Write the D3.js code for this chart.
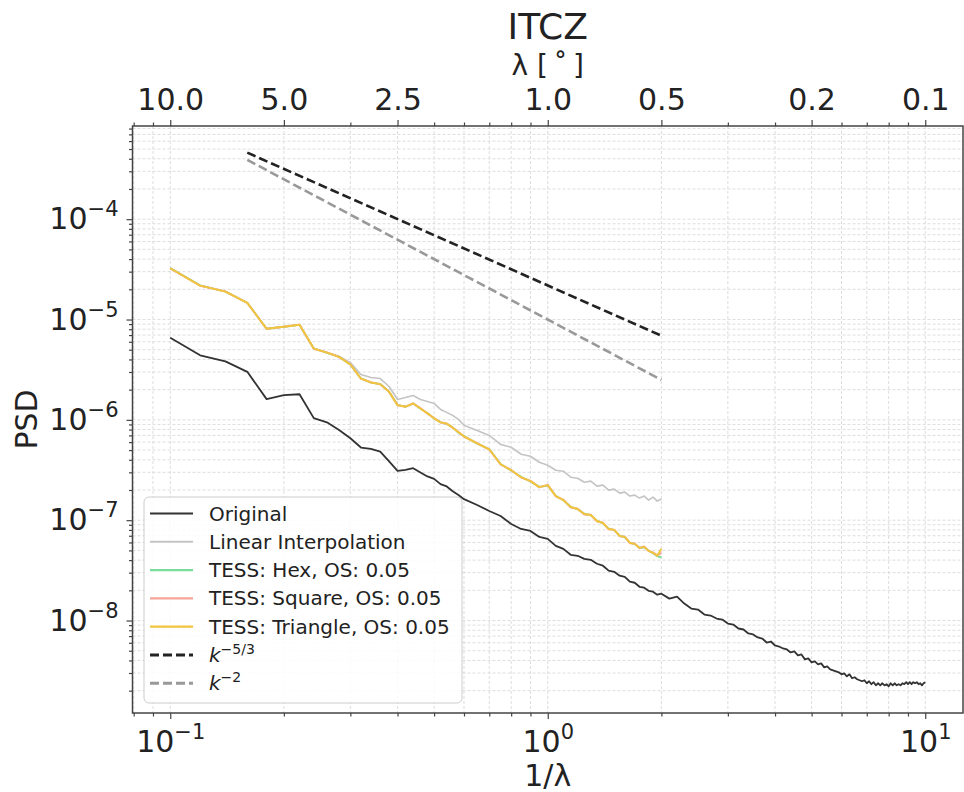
<!DOCTYPE html>
<html>
<head>
<meta charset="utf-8">
<script src="https://cdn.jsdelivr.net/npm/d3@7"></script>
<style>
  body { margin: 0; background: #fff; }
  svg { font-family: "DejaVu Sans", sans-serif; }
</style>
</head>
<body>
<svg id="chart" width="964" height="792"></svg>
<script>
// wavenumbers 1/lambda
const kLow = [0.10, 0.12, 0.14, 0.16, 0.18, 0.20, 0.22, 0.24, 0.26, 0.28, 0.30, 0.32, 0.34,
  0.36, 0.38, 0.40, 0.42, 0.44, 0.46, 0.48, 0.50, 0.52, 0.54, 0.56, 0.58, 0.60];
const kMid = [0.65, 0.70, 0.75, 0.80, 0.85, 0.90, 0.95, 1.00, 1.05, 1.10, 1.15, 1.20, 1.25, 1.30,
  1.35, 1.40, 1.45, 1.50, 1.55, 1.60, 1.65, 1.70, 1.75, 1.80, 1.85, 1.90, 1.95, 2.00];
const kHigh = [2.1, 2.2, 2.3, 2.4, 2.5, 2.6, 2.7, 2.8, 2.9, 3.0,
  3.1, 3.2, 3.3, 3.4, 3.5, 3.6, 3.7, 3.8, 3.9, 4.0,
  4.1, 4.2, 4.3, 4.4, 4.5, 4.6, 4.7, 4.8, 4.9, 5.0,
  5.1, 5.2, 5.3, 5.4, 5.5, 5.6, 5.7, 5.8, 5.9, 6.0,
  6.1, 6.2, 6.3, 6.4, 6.5, 6.6, 6.7, 6.8, 6.9, 7.0,
  7.1, 7.2, 7.3, 7.4, 7.5, 7.6, 7.7, 7.8, 7.9, 8.0,
  8.1, 8.2, 8.3, 8.4, 8.5, 8.6, 8.7, 8.8, 8.9, 9.0,
  9.1, 9.2, 9.3, 9.4, 9.5, 9.6, 9.7, 9.8, 9.9, 10.0];

// PSD values (Original runs over kLow + kMid + kHigh, the others over kLow + kMid)
const originalPSD = [
  6.59e-6, 4.40e-6, 3.83e-6, 3.01e-6, 1.61e-6, 1.76e-6, 1.80e-6, 1.04e-6, 9.45e-7, 7.92e-7,
  6.55e-7, 5.30e-7, 5.13e-7, 4.83e-7, 3.85e-7, 3.10e-7, 3.18e-7, 3.30e-7, 2.99e-7, 2.73e-7,
  2.58e-7, 2.29e-7, 2.17e-7, 1.94e-7, 1.78e-7, 1.62e-7,
  1.416e-7, 1.235e-7, 1.101e-7, 9.17e-8, 8.18e-8, 7.82e-8, 6.81e-8, 6.51e-8, 5.55e-8, 5.18e-8,
  4.52e-8, 4.42e-8, 4.12e-8, 4.03e-8, 3.68e-8, 3.52e-8, 3.14e-8, 3.06e-8, 2.80e-8, 2.73e-8,
  2.44e-8, 2.38e-8, 2.17e-8, 2.125e-8, 1.98e-8, 1.94e-8, 1.81e-8, 1.85e-8,
  1.654e-8, 1.731e-8, 1.476e-8, 1.316e-8, 1.287e-8, 1.148e-8, 1.122e-8, 1.047e-8, 1.023e-8, 9.34e-9,
  9.12e-9, 8.33e-9, 8.14e-9, 7.43e-9, 7.26e-9, 6.78e-9, 6.62e-9, 6.04e-9, 6.18e-9, 5.64e-9,
  5.51e-9, 5.27e-9, 5.15e-9, 4.81e-9, 4.92e-9, 4.49e-9, 4.59e-9, 4.10e-9, 4.19e-9, 3.83e-9,
  3.91e-9, 3.66e-9, 3.74e-9, 3.41e-9, 3.49e-9, 3.26e-9, 3.19e-9, 3.12e-9, 3.05e-9, 2.91e-9,
  2.98e-9, 2.78e-9, 2.91e-9, 2.66e-9, 2.72e-9, 2.60e-9, 2.54e-9, 2.48e-9, 2.54e-9, 2.37e-9,
  2.48e-9, 2.32e-9, 2.43e-9, 2.26e-9, 2.37e-9, 2.26e-9, 2.37e-9, 2.26e-9, 2.32e-9, 2.21e-9,
  2.37e-9, 2.26e-9, 2.37e-9, 2.26e-9, 2.32e-9, 2.26e-9, 2.37e-9, 2.32e-9, 2.43e-9, 2.32e-9,
  2.43e-9, 2.32e-9, 2.43e-9, 2.37e-9, 2.43e-9, 2.32e-9, 2.37e-9, 2.26e-9, 2.37e-9, 2.43e-9];
const linearPSD = [
  3.24e-5, 2.18e-5, 1.90e-5, 1.466e-5, 8.09e-6, 8.47e-6, 8.87e-6, 5.13e-6, 4.68e-6, 4.30e-6,
  3.72e-6, 2.83e-6, 2.64e-6, 2.58e-6, 2.15e-6, 1.597e-6, 1.672e-6, 1.750e-6, 1.597e-6, 1.526e-6,
  1.458e-6, 1.271e-6, 1.187e-6, 1.108e-6, 1.012e-6, 8.82e-7,
  7.85e-7, 7.00e-7, 5.70e-7, 5.33e-7, 4.54e-7, 4.34e-7, 3.78e-7, 3.53e-7, 3.15e-7, 3.08e-7,
  2.68e-7, 2.62e-7, 2.39e-7, 2.45e-7, 2.185e-7, 2.235e-7, 1.994e-7, 2.04e-7, 1.862e-7, 1.905e-7,
  1.739e-7, 1.779e-7, 1.661e-7, 1.739e-7, 1.587e-7, 1.699e-7, 1.551e-7, 1.623e-7];
const hexPSD = [
  3.25e-5, 2.19e-5, 1.90e-5, 1.47e-5, 8.10e-6, 8.46e-6, 8.85e-6, 5.15e-6, 4.66e-6, 4.25e-6,
  3.54e-6, 2.59e-6, 2.35e-6, 2.28e-6, 1.90e-6, 1.41e-6, 1.35e-6, 1.46e-6, 1.29e-6, 1.17e-6,
  1.03e-6, 9.50e-7, 9.12e-7, 8.42e-7, 7.45e-7, 6.88e-7,
  5.80e-7, 5.12e-7, 3.63e-7, 3.13e-7, 2.70e-7, 2.44e-7, 2.15e-7, 2.22e-7, 1.75e-7, 1.58e-7,
  1.36e-7, 1.29e-7, 1.16e-7, 1.12e-7, 9.9e-8, 9.3e-8, 8.25e-8, 7.95e-8, 7.0e-8, 6.75e-8,
  5.98e-8, 5.78e-8, 5.33e-8, 5.38e-8, 4.98e-8, 4.68e-8, 4.38e-8, 4.25e-8];
const squarePSD = [
  3.23e-5, 2.17e-5, 1.91e-5, 1.46e-5, 8.08e-6, 8.48e-6, 8.89e-6, 5.11e-6, 4.70e-6, 4.23e-6,
  3.58e-6, 2.57e-6, 2.37e-6, 2.26e-6, 1.91e-6, 1.40e-6, 1.355e-6, 1.455e-6, 1.31e-6, 1.155e-6,
  1.04e-6, 9.40e-7, 9.20e-7, 8.33e-7, 7.55e-7, 6.82e-7,
  5.86e-7, 5.06e-7, 3.59e-7, 3.17e-7, 2.66e-7, 2.47e-7, 2.12e-7, 2.25e-7, 1.73e-7, 1.60e-7,
  1.34e-7, 1.30e-7, 1.14e-7, 1.135e-7, 9.75e-8, 9.45e-8, 8.12e-8, 8.06e-8, 6.92e-8, 6.86e-8,
  5.90e-8, 5.86e-8, 5.26e-8, 5.47e-8, 4.92e-8, 4.78e-8, 4.46e-8, 4.70e-8];
const trianglePSD = [
  3.24e-5, 2.18e-5, 1.90e-5, 1.466e-5, 8.09e-6, 8.47e-6, 8.87e-6, 5.13e-6, 4.68e-6, 4.24e-6,
  3.56e-6, 2.58e-6, 2.36e-6, 2.27e-6, 1.905e-6, 1.402e-6, 1.352e-6, 1.458e-6, 1.30e-6, 1.160e-6,
  1.035e-6, 9.45e-7, 9.17e-7, 8.37e-7, 7.51e-7, 6.85e-7,
  5.83e-7, 5.09e-7, 3.61e-7, 3.15e-7, 2.68e-7, 2.45e-7, 2.135e-7, 2.235e-7, 1.739e-7, 1.587e-7,
  1.353e-7, 1.292e-7, 1.153e-7, 1.127e-7, 9.82e-8, 9.38e-8, 8.18e-8, 8.00e-8, 6.97e-8, 6.81e-8,
  5.94e-8, 5.81e-8, 5.30e-8, 5.42e-8, 4.95e-8, 4.73e-8, 4.42e-8, 5.18e-8];

// reference slopes
const refK = [0.16, 2.0];
const kolmogorovPSD = [4.6e-4, 6.9e-6];
const kMinus2PSD = [3.9e-4, 2.5e-6];

// top axis (wavelength in degrees)
const lambdaValues = [10, 5, 2.5, 1, 0.5, 0.2, 0.1];
const lambdaLabels = ["10.0", "5.0", "2.5", "1.0", "0.5", "0.2", "0.1"];

const svg = d3.select("#chart");
const box = {left: 132.5, right: 963, top: 126, bottom: 713};

const zip = (ks, vs) => ks.map((k, i) => [k, vs[i]]);
const kShort = kLow.concat(kMid);
const series = [
  {label: "Original", data: zip(kShort.concat(kHigh), originalPSD), color: "#333", width: 1.8},
  {label: "Linear Interpolation", data: zip(kShort, linearPSD), color: "#c4c4c4", width: 1.6},
  {label: "TESS: Hex, OS: 0.05", data: zip(kShort, hexPSD), color: "#79dc9a", width: 1.9},
  {label: "TESS: Square, OS: 0.05", data: zip(kShort, squarePSD), color: "#f7a398", width: 1.9},
  {label: "TESS: Triangle, OS: 0.05", data: zip(kShort, trianglePSD), color: "#f1c53d", width: 1.9},
  {label: "k", sup: "\u22125/3", data: zip(refK, kolmogorovPSD), color: "#222", width: 2.6, dash: "9,4"},
  {label: "k", sup: "\u22122", data: zip(refK, kMinus2PSD), color: "#999", width: 2.6, dash: "9,4"}
];

function logPad(ext) {
  const a = Math.log10(ext[0]), b = Math.log10(ext[1]), m = (b - a) * 0.05;
  return [10 ** (a - m), 10 ** (b + m)];
}
const allPts = series.flatMap(s => s.data);
const x = d3.scaleLog().domain(logPad(d3.extent(allPts, d => d[0]))).range([box.left, box.right]);
const y = d3.scaleLog().domain(logPad(d3.extent(allPts, d => d[1]))).range([box.bottom, box.top]);

function logTicks(scale) {
  const [lo, hi] = scale.domain(), major = [], minor = [];
  for (let e = Math.floor(Math.log10(lo)); e <= Math.ceil(Math.log10(hi)); e++) {
    for (let m = 1; m <= 9; m++) {
      const v = m * 10 ** e;
      if (v >= lo && v <= hi) (m === 1 ? major : minor).push(v);
    }
  }
  return {major, minor};
}
const xt = logTicks(x), yt = logTicks(y);

// grid
const grid = svg.append("g").attr("stroke", "#d4d4d4").attr("stroke-width", 0.8).attr("stroke-dasharray", "3,2");
grid.selectAll(".gx").data(xt.major.concat(xt.minor)).join("line")
  .attr("x1", d => x(d)).attr("x2", d => x(d)).attr("y1", box.top).attr("y2", box.bottom);
grid.selectAll(".gy").data(yt.major.concat(yt.minor)).join("line")
  .attr("y1", d => y(d)).attr("y2", d => y(d)).attr("x1", box.left).attr("x2", box.right);

// lines
svg.append("clipPath").attr("id", "clip").append("rect")
  .attr("x", box.left).attr("y", box.top).attr("width", box.right - box.left).attr("height", box.bottom - box.top);
const line = d3.line().x(d => x(d[0])).y(d => y(d[1]));
svg.append("g").attr("clip-path", "url(#clip)").selectAll("path").data(series).join("path")
  .attr("fill", "none")
  .attr("stroke", d => d.color)
  .attr("stroke-width", d => d.width)
  .attr("stroke-dasharray", d => d.dash || null)
  .attr("stroke-linejoin", "round")
  .attr("d", d => line(d.data));

// axes
const fontSize = 30;
function sci(sel) {
  sel.each(function(d) {
    const t = d3.select(this), e = Math.round(Math.log10(d));
    t.text(null);
    t.append("tspan").text("10");
    t.append("tspan").attr("dy", "-0.62em").attr("font-size", "0.7em").text(e < 0 ? "\u2212" + (-e) : e);
  });
}
function styleAxis(g) {
  g.select(".domain").remove();
  g.selectAll(".tick line").attr("stroke", "#444").attr("stroke-width", 1.2);
  g.selectAll("text").attr("fill", "#222").attr("font-size", fontSize).attr("font-family", "DejaVu Sans");
}

const axBottom = svg.append("g").attr("transform", `translate(0,${box.bottom})`);
axBottom.append("g").call(d3.axisBottom(x).tickValues(xt.minor).tickSize(3.5).tickFormat("")).call(styleAxis);
axBottom.append("g").call(d3.axisBottom(x).tickValues(xt.major).tickSize(6).tickPadding(12)).call(styleAxis)
  .selectAll("text").call(sci);

const axLeft = svg.append("g").attr("transform", `translate(${box.left},0)`);
axLeft.append("g").call(d3.axisLeft(y).tickValues(yt.minor).tickSize(3.5).tickFormat("")).call(styleAxis);
axLeft.append("g").call(d3.axisLeft(y).tickValues(yt.major).tickSize(6).tickPadding(8)).call(styleAxis)
  .selectAll("text").call(sci);

const topMajor = lambdaValues.map(l => 1 / l);
const topMinor = xt.minor.filter(v => !topMajor.some(t => Math.abs(t - v) < 1e-9));
const axTop = svg.append("g").attr("transform", `translate(0,${box.top})`);
axTop.append("g").call(d3.axisTop(x).tickValues(topMinor).tickSize(3.5).tickFormat("")).call(styleAxis);
axTop.append("g").call(d3.axisTop(x).tickValues(topMajor).tickSize(6).tickPadding(10)
  .tickFormat((d, i) => lambdaLabels[i])).call(styleAxis);

// frame
svg.append("rect").attr("x", box.left).attr("y", box.top)
  .attr("width", box.right - box.left).attr("height", box.bottom - box.top)
  .attr("fill", "none").attr("stroke", "#444").attr("stroke-width", 1.5);

// titles
const cx = (box.left + box.right) / 2;
svg.append("text").attr("x", cx).attr("y", 39).attr("text-anchor", "middle")
  .attr("font-size", 36).attr("fill", "#222").text("ITCZ");
svg.append("text").attr("x", cx).attr("y", 75).attr("text-anchor", "middle")
  .attr("font-size", 28).attr("fill", "#222").text("\u03bb [\u2009\u02da\u2009]");
svg.append("text").attr("x", cx).attr("y", 786).attr("text-anchor", "middle")
  .attr("font-size", fontSize).attr("fill", "#222").text("1/\u03bb");
svg.append("text").attr("transform", `translate(37,${(box.top + box.bottom) / 2}) rotate(-90)`)
  .attr("text-anchor", "middle").attr("font-size", fontSize).attr("fill", "#222").text("PSD");

// legend
const lg = svg.append("g").attr("transform", "translate(144,497)");
lg.append("rect").attr("width", 318).attr("height", 206).attr("rx", 5)
  .attr("fill", "#fff").attr("fill-opacity", 0.85).attr("stroke", "#cccccc").attr("stroke-width", 1);
const rows = lg.selectAll(".row").data(series).join("g")
  .attr("transform", (d, i) => `translate(0,${16.5 + i * 28.3})`);
rows.append("line").attr("x1", 6).attr("x2", 49)
  .attr("stroke", d => d.color).attr("stroke-width", d => d.width + 0.3)
  .attr("stroke-dasharray", d => d.dash || null);
rows.append("text").attr("x", 65).attr("dy", "0.35em").attr("font-size", 20).attr("fill", "#222")
  .each(function(d) {
    const t = d3.select(this);
    if (d.sup) {
      t.append("tspan").attr("font-style", "italic").text(d.label);
      t.append("tspan").attr("dy", "-0.6em").attr("font-size", "0.7em").text(d.sup);
    } else {
      t.text(d.label);
    }
  });
</script>
</body>
</html>
